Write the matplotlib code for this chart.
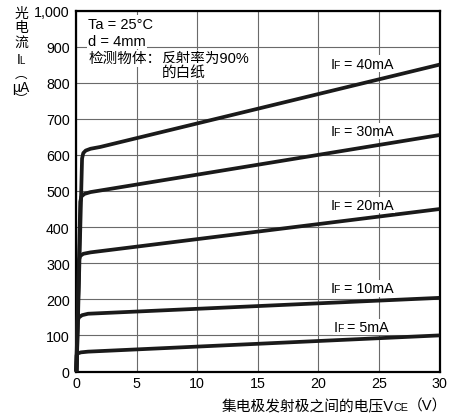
import matplotlib
matplotlib.use("Agg")
import matplotlib.pyplot as plt
import matplotlib.transforms as mtransforms

plt.rcParams['font.family'] = ['Liberation Sans', 'Noto Sans CJK SC', 'DejaVu Sans']

# ---- data ----
if_labels = ["40mA", "30mA", "20mA", "10mA", "5mA"]
x_40 = [0.05, 0.5, 0.6, 0.8, 1.2, 2.0, 30]
y_40 = [0, 590, 605, 612, 617, 622, 850]
x_30 = [0.05, 0.35, 0.45, 0.7, 1.2, 30]
y_30 = [0, 470, 485, 492, 497, 655]
x_20 = [0.03, 0.25, 0.35, 0.6, 1.2, 30]
y_20 = [0, 310, 320, 326, 330, 450]
x_10 = [0.02, 0.12, 0.25, 0.5, 1.0, 30]
y_10 = [0, 140, 150, 156, 160, 204]
x_5 = [0.0, 0.05, 0.15, 0.4, 1.0, 30]
y_5 = [0, 45, 50, 53, 55, 100]
label_x = [21.0, 21.0, 21.0, 21.0, 21.3]
label_y = [858, 672, 467, 237, 129]

x_ticks = [0, 5, 10, 15, 20, 25, 30]
y_ticks = [0, 100, 200, 300, 400, 500, 600, 700, 800, 900, 1000]
y_ticklabels = ["0", "100", "200", "300", "400", "500", "600", "700", "800", "900", "1,000"]

fig = plt.figure(figsize=(4.59, 4.14), dpi=100)
ax = fig.add_axes([76/459, (414-372.5)/414, (439.5-76)/459, (372.5-11.5)/414])
ax.set_xlim(0, 30)
ax.set_ylim(0, 1000)
ax.set_xticks(x_ticks)
ax.set_yticks(y_ticks)
ax.set_yticklabels(y_ticklabels)
ax.tick_params(length=0, labelsize=10.3, colors='black')
ax.tick_params(axis='y', pad=4.5)
ax.tick_params(axis='x', pad=3)
ax.grid(True, color='#6a6a6a', linewidth=0.8)
ax.set_axisbelow(True)
for sp in ax.spines.values():
    sp.set_linewidth(1.6)
    sp.set_color('black')

for xs, ys in [(x_40, y_40), (x_30, y_30), (x_20, y_20), (x_10, y_10), (x_5, y_5)]:
    ax.plot(xs, ys, color='#1a1a1a', linewidth=2.7, solid_joinstyle='round',
            solid_capstyle='butt', zorder=3, clip_on=False)

renderer = fig.canvas.get_renderer()


def chain(x, y, pieces, transform, va='baseline', bbox=None, zorder=4):
    dx = 0
    for s, size, kern in pieces:
        tr = mtransforms.offset_copy(transform, fig=fig, x=dx, y=0, units='dots')
        if bbox is not None:
            # white background only (text itself invisible), drawn underneath
            fig.text(x, y, s, fontsize=size, ha='left', va=va, transform=tr,
                     bbox=bbox, color='none', zorder=zorder)
        t = fig.text(x, y, s, fontsize=size, ha='left', va=va, transform=tr,
                     zorder=zorder + 0.1)
        dx += t.get_window_extent(renderer).width + kern
    return dx


wb = dict(facecolor='white', edgecolor='none', pad=1.0)
for lx, ly, lab in zip(label_x, label_y, if_labels):
    chain(lx, ly - 17, [("I", 10.3, -1.3), ("F", 7.5, 0), (" = " + lab, 10.3, 0)],
          ax.transData, bbox=wb)

# condition text block
ax.text(1.0, 963, "Ta = 25°C", fontsize=10.5, va='center', ha='left', bbox=wb, zorder=4)
ax.text(1.0, 916, "d = 4mm", fontsize=10.5, va='center', ha='left', bbox=wb, zorder=4)
ax.text(1.0, 868, "检测物体：", fontsize=10.5, va='center', ha='left', bbox=wb, zorder=4)
ax.text(7.07, 868, "反射率为90%", fontsize=10.5, va='center', ha='left', bbox=wb, zorder=4)
ax.text(7.07, 830, "的白纸", fontsize=10.5, va='center', ha='left', bbox=wb, zorder=4)

# y-axis label (vertical stack)
ylab = [("光", 14), ("电", 28), ("流", 43)]
for s, py in ylab:
    fig.text(21/459, 1 - py/414, s, fontsize=10, ha='center', va='center')
chain(16.5/459, 1 - 64/414, [("I", 10, -1.2), ("L", 7, 0)], fig.transFigure)
fig.text(21/459, 1 - 75/414, "︵", fontsize=9, ha='center', va='center')
fig.text(21/459, 1 - 88/414, "μA", fontsize=10, ha='center', va='center')
fig.text(21/459, 1 - 100/414, "︶", fontsize=9, ha='center', va='center')

# x-axis label
chain(222/459, 1 - 411/414, [("集电极发射极之间的电压V", 10.6, -1.0), ("CE", 7.8, 0),
                             ("（V）", 10.6, 0)],
      fig.transFigure)

fig.savefig("out.png", dpi=100)
